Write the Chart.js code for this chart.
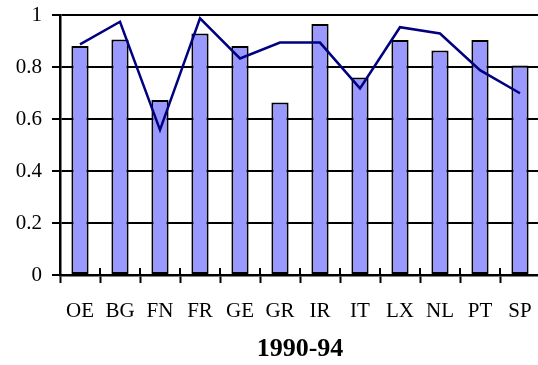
<!DOCTYPE html>
<html>
<head>
<meta charset="utf-8">
<script src="https://cdn.jsdelivr.net/npm/chart.js@4/dist/chart.umd.min.js"></script>
<style>
  html, body { margin: 0; padding: 0; background: #fff; overflow: hidden; }
  #wrap { width: 540px; height: 365px; }
</style>
</head>
<body>
<div id="wrap"><canvas id="c" width="540" height="365"></canvas></div>
<script>
// Country codes along the x axis
const countries = ['OE', 'BG', 'FN', 'FR', 'GE', 'GR', 'IR', 'IT', 'LX', 'NL', 'PT', 'SP'];
// Bar series, 1990-94
const barValues = [0.881, 0.906, 0.673, 0.929, 0.881, 0.663, 0.965, 0.760, 0.904, 0.863, 0.904, 0.806];
// Line series, 1990-94
const lineValues = [0.887, 0.974, 0.558, 0.987, 0.833, 0.894, 0.894, 0.718, 0.953, 0.929, 0.788, 0.699];
// Value axis ticks
const yTicks = [0, 0.2, 0.4, 0.6, 0.8, 1];
const xTitle = '1990-94';

const serif = 'Liberation Serif, Times New Roman, serif';

// Small tick marks that cross the category axis upward at each category boundary
const crossTicks = {
  id: 'crossTicks',
  afterDatasetsDraw(chart) {
    const x = chart.scales.x;
    const ctx = chart.ctx;
    ctx.save();
    ctx.strokeStyle = '#000';
    ctx.lineWidth = 2;
    ctx.beginPath();
    for (let i = 0; i <= countries.length; i++) {
      const px = Math.round(x.getPixelForValue(i - 0.5));
      ctx.moveTo(px, x.top - 7);
      ctx.lineTo(px, x.top);
    }
    ctx.stroke();
    ctx.restore();
  }
};

new Chart(document.getElementById('c'), {
  type: 'bar',
  data: {
    labels: countries,
    datasets: [
      {
        type: 'line',
        data: lineValues,
        borderColor: '#000080',
        borderWidth: 2.5,
        pointRadius: 0,
        tension: 0,
        fill: false,
        order: 0
      },
      {
        type: 'bar',
        data: barValues,
        backgroundColor: '#9999ff',
        borderColor: '#000',
        borderWidth: 2,
        borderSkipped: false,
        barPercentage: 0.43,
        categoryPercentage: 1,
        order: 1
      }
    ]
  },
  options: {
    responsive: false,
    animation: false,
    layout: { autoPadding: false, padding: { top: 15, right: 0, bottom: 0, left: 0 } },
    plugins: { legend: { display: false }, tooltip: { enabled: false } },
    scales: {
      x: {
        offset: true,
        grid: {
          offset: true,
          drawOnChartArea: false,
          tickLength: 8,
          tickWidth: 2,
          tickColor: '#000'
        },
        border: { display: true, color: '#000', width: 2.5 },
        ticks: {
          color: '#000',
          font: { family: serif, size: 21 },
          padding: 16,
          maxRotation: 0,
          autoSkip: false
        },
        title: {
          display: true,
          text: xTitle,
          color: '#000',
          font: { family: serif, size: 26, weight: 'bold' },
          padding: { top: 4, bottom: 0 }
        },
        afterFit(scale) {
          scale.height = 90;
          scale.paddingLeft = 0;
          scale.paddingRight = 0;
        }
      },
      y: {
        min: 0,
        max: 1,
        afterBuildTicks(scale) { scale.ticks = yTicks.map(v => ({ value: v })); },
        grid: {
          color: '#000',
          lineWidth: 2,
          tickLength: 8,
          tickColor: '#000',
          tickWidth: 2
        },
        border: { display: true, color: '#000', width: 2.5 },
        ticks: {
          color: '#000',
          font: { family: serif, size: 21 },
          padding: 10,
          callback: v => String(v)
        },
        afterFit(scale) {
          scale.width = 60;
          scale.paddingTop = 0;
          scale.paddingBottom = 0;
        }
      }
    }
  },
  plugins: [crossTicks]
});
</script>
</body>
</html>
